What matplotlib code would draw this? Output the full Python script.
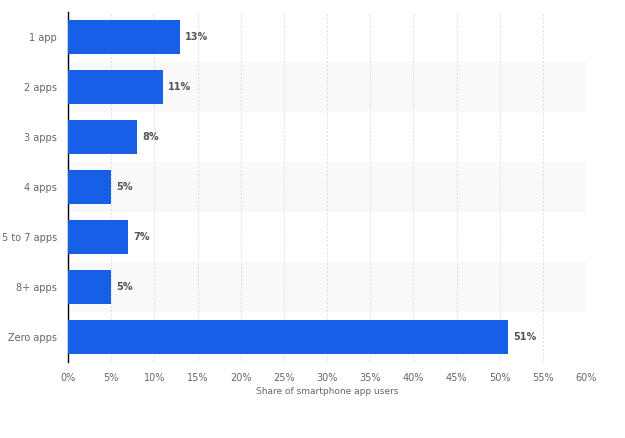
import numpy as np
import matplotlib.pyplot as plt

categories = ["1 app", "2 apps", "3 apps", "4 apps", "5 to 7 apps", "8+ apps", "Zero apps"]
shares = [13, 11, 8, 5, 7, 5, 51]
x_ticks = [0, 5, 10, 15, 20, 25, 30, 35, 40, 45, 50, 55, 60]

fig = plt.figure(figsize=(6.25, 4.38), dpi=100)
ax = fig.add_axes([0.1088, 0.1735, 0.8288, 0.7991])

y = np.arange(len(categories))

# alternating row bands
for i in y:
    if i % 2 == 1:
        ax.axhspan(i - 0.5, i + 0.5, color="#f9f9f9", zorder=0, lw=0)

ax.barh(y, shares, height=0.68, color="#175fe7", zorder=3)

for yi, v in zip(y, shares):
    ax.text(v + 0.6, yi, f"{v}%", va="center", ha="left", fontsize=7,
            fontweight="bold", color="#555555", zorder=4)

ax.set_xlim(0, 60)
ax.set_ylim(len(categories) - 0.5, -0.5)
ax.set_yticks(y)
ax.set_yticklabels(categories)
ax.set_xticks(x_ticks)
ax.set_xticklabels([f"{t}%" for t in x_ticks])
ax.tick_params(axis="both", length=0, labelsize=7, colors="#666666")
ax.tick_params(axis="y", pad=8)
ax.tick_params(axis="x", pad=8)

ax.grid(axis="x", color="#dddddd", linewidth=0.7, linestyle=(0, (2, 2)), zorder=1)
ax.set_axisbelow(True)

for s in ["top", "right", "bottom"]:
    ax.spines[s].set_visible(False)
ax.spines["left"].set_color("black")
ax.spines["left"].set_linewidth(1)

ax.set_xlabel("Share of smartphone app users", fontsize=6.5, color="#666666", labelpad=3)

fig.savefig("out.png", dpi=100)
